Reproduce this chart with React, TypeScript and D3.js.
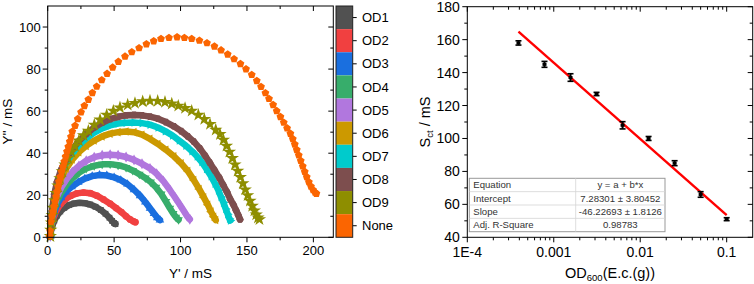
import React from 'react';
import * as d3 from 'd3';

// ---------- Left chart data (Nyquist plots) ----------
const seriesNames = ['OD1', 'OD2', 'OD3', 'OD4', 'OD5', 'OD6', 'OD7', 'OD8', 'OD9', 'None'];
const seriesColors = ['#515151', '#F14040', '#1A6FDF', '#37AD6B', '#B177DE', '#CC9900', '#00CBCC', '#7D4E4E', '#8E8E00', '#FB6501'];

const od1: [number, number][] = [[2,0.5],[2.5,3],[3.5,5.5],[5,8],[7,10.3],[9.5,12.3],[12.5,14],[16,15.3],[20,16.1],[24,16.4],[28,16.2],[32,15.6],[36,14.5],[40,13],[43.5,11.2],[46.5,9.3],[48.5,7.8],[50,6.8],[51,6.3]];
const od2: [number, number][] = [[2,0.5],[2.5,4],[3.5,7.5],[5,10.5],[7,13.3],[10,16],[13.5,18.2],[17.5,19.8],[22,20.9],[27,21.3],[32,21],[37,19.8],[42,18],[47,16],[51.5,13.9],[55.5,12],[59,10],[62,8.5],[64.5,7.6],[66,7.2]];
const od3: [number, number][] = [[2,0.5],[2.5,4.5],[3.5,8.5],[5,12],[7,15.5],[10,18.8],[13.5,21.5],[18,24],[23,26.2],[28,27.9],[33.5,29.1],[39,29.6],[44.5,29.4],[50,28.5],[55,27.2],[60,25.3],[65,22.6],[69.5,19.8],[73.5,16.8],[77,13.8],[80,11.3],[82.5,9.3],[84.5,8.2]];
const od4: [number, number][] = [[2,0.5],[2.5,5],[3.5,9.5],[5,13.5],[7,17.3],[10,21],[14,24.8],[18.5,28],[23.5,30.7],[29,32.7],[35,34],[41,34.7],[47,34.8],[53,34.3],[59,33.2],[64,31.8],[69,30],[73.5,28.2],[77.5,26.3],[81.5,23.8],[85.5,20.6],[89,17],[92,13.8],[94.5,11.3],[96.5,9.6],[98.5,8.3]];
const od5: [number, number][] = [[2,0.5],[2.5,5.5],[3.5,10.5],[5,15],[7,19.3],[10,23.5],[14,27.5],[18.5,31],[23.5,34],[29,36.4],[35,38.1],[41,39],[47,39.3],[53,39],[59,38.2],[65,36.8],[71,35],[77,32.8],[82,30.2],[87,26.8],[92,22.5],[96,18.8],[99.5,15.5],[102.5,12.5],[105,10],[107,8.6]];
const od6: [number, number][] = [[2,0.5],[2.5,6.5],[3.5,12.5],[5,18],[7,23],[10,28],[14,32.8],[18.5,37],[23.5,40.5],[29,43.5],[35,46],[41,48],[47,49.3],[53,50],[59,50.3],[65,50],[71,48.8],[77,46.8],[83,44.4],[89,41.6],[95,38.5],[100.5,35.2],[105.5,31.5],[110,27.2],[114,23],[117.5,19],[120.5,15.5],[123,12.2],[125,9.8],[126.5,8.2]];
const od7: [number, number][] = [[2,0.5],[2.5,7],[3.5,13.5],[5,19.5],[7,25],[10,30.5],[14,35.5],[18.5,40],[23.5,43.8],[29,47],[35,49.8],[41,51.8],[47,53.2],[53,54.1],[59,54.5],[65,54.6],[71,54.3],[77,53.6],[83,52.2],[88.5,50.5],[94,48.4],[99,46],[104,43.6],[108.5,41],[112.5,38.4],[116,35.8],[119.5,32.5],[123,29],[126,25.5],[128.5,22.3],[130.5,19.2],[132.3,16.5],[134,13.5],[135.5,11],[136.8,8.8],[137.5,8]];
const od8: [number, number][] = [[2,0.5],[2.5,7.5],[3.5,14],[5,20.5],[7,26.3],[10,32],[14,37.2],[18.5,41.8],[23.5,45.8],[29,49.2],[35,52.2],[41,54.5],[47,56.2],[53,57.3],[59,58],[65,58.2],[71,58],[77,57.4],[83,56.4],[89,54.8],[95,52.8],[100.5,50.5],[105.5,48],[110,45.5],[114.5,42.3],[118.5,38.8],[122,35.5],[125.5,32],[129,28.5],[132,25],[135,21.5],[137.5,18],[139.8,15.5],[141.8,12.8],[143.5,10.5],[144.8,8.5]];
const od9: [number, number][] = [[2,0.5],[2.3,3.5],[2.8,7],[3.4,10.5],[4.2,14],[5.2,17.5],[6.3,21],[7.6,24.5],[9.2,28],[11,31.3],[13,34.5],[15.3,37.6],[17.8,40.6],[20.5,43.4],[23.5,46],[27,48.5],[30.6,50.6],[35.1,53.5],[39.4,55.9],[44.4,58.2],[49.4,60.1],[54.4,61.7],[60.2,63],[65.7,63.8],[71.5,64.6],[77,64.9],[82.8,64.8],[88.3,64.3],[93.4,63.5],[98.3,62.5],[103.4,61.4],[108.4,60.1],[113.4,58.2],[117.9,56.2],[122.2,53.8],[126.5,51.1],[129.7,49],[132.3,46.3],[134.6,43.5],[136.8,40.6],[139,37.6],[141,34.6],[143,31.6],[145,28.6],[146.9,25.6],[148.7,22.7],[150.5,19.9],[152.3,17.3],[154,14.9],[155.6,12.7],[157,10.8],[158.3,9.3],[159.4,8.5]];
const none: [number, number][] = [[1.5,0.5],[1.8,3],[2.5,7.4],[3.2,10],[4,12.2],[4.8,14.6],[5.5,17],[6.3,19.4],[7,21.7],[7.8,24],[8.5,26.5],[9.5,28.8],[10.5,31.2],[11.5,33.6],[12.5,36],[13.5,38.4],[14.5,40.8],[15.5,43.1],[16.6,45.5],[17.5,47.8],[18.5,50.3],[20.6,53.1],[22.6,56.3],[25.1,59.5],[27.6,62.5],[30.6,65.5],[33.6,68.7],[36.9,71.7],[40.7,74.8],[44.7,77.8],[48.9,80.8],[53.2,83.5],[58.2,86],[63.3,88.1],[68.8,90],[74.3,91.9],[79.8,93.3],[85.3,94.4],[91.3,94.9],[97.4,95.2],[102.9,94.9],[108.4,94.4],[114.2,93.6],[119.9,92.4],[125.5,90.8],[130.5,89],[135.5,87],[140.3,84.8],[145.1,82.5],[149.3,80],[153.6,77.3],[157.4,74.4],[160.6,71.6],[163.9,68.6],[166.6,65.9],[169.7,63],[172.4,60.1],[175.2,57.3],[177.7,54.6],[180.2,51.9],[182.7,49.3],[184.5,46.8],[186,44.2],[187.5,41.6],[189,39],[190.5,36.4],[192,33.8],[193.5,31.2],[195,28.7],[196.6,26.3],[198.2,24.2],[199.8,22.5],[201.3,21.3],[202.3,20.8]];

const seriesData = [od1, od2, od3, od4, od5, od6, od7, od8, od9, none];

const leftXTicks = [0, 50, 100, 150, 200];
const leftXMinor = [25, 75, 125, 175];
const leftYTicks = [0, 20, 40, 60, 80, 100];
const leftYMinor = [10, 30, 50, 70, 90];

// ---------- Right chart data ----------
const odValues = [0.000390625, 0.00078125, 0.0015625, 0.003125, 0.00625, 0.0125, 0.025, 0.05, 0.1];
const sctValues = [158, 145, 137, 127, 108, 100, 85, 66, 51];
const sctErrors = [1.3, 1.8, 2.3, 1.0, 2.2, 1.2, 1.5, 1.7, 0.9];
const fitIntercept = 7.28301;
const fitSlope = -46.22693;
const rightXTicks = [1e-4, 1e-3, 1e-2, 1e-1];
const rightXTickLabels = ['1E-4', '0.001', '0.01', '0.1'];
const rightYTicks = [40, 60, 80, 100, 120, 140, 160, 180];
const rightYMinor = [50, 70, 90, 110, 130, 150, 170];
const tableLabels = ['Equation', 'Intercept', 'Slope', 'Adj. R-Square'];
const tableValues = ['y = a + b*x', '7.28301 ± 3.80452', '-46.22693 ± 1.8126', '0.98783'];

// ---------- custom symbols ----------
const symbolHexagon = {
  draw(ctx: any, size: number) {
    const r = Math.sqrt((2 * size) / (3 * Math.sqrt(3)));
    for (let i = 0; i < 6; i++) {
      const a = (Math.PI / 3) * i;
      const x = r * Math.cos(a), y = r * Math.sin(a);
      if (i === 0) ctx.moveTo(x, y); else ctx.lineTo(x, y);
    }
    ctx.closePath();
  },
};
const symbolPentagon = {
  draw(ctx: any, size: number) {
    const r = Math.sqrt(size / (2.5 * Math.sin((72 * Math.PI) / 180)));
    for (let i = 0; i < 5; i++) {
      const a = -Math.PI / 2 + (2 * Math.PI * i) / 5;
      const x = r * Math.cos(a), y = r * Math.sin(a);
      if (i === 0) ctx.moveTo(x, y); else ctx.lineTo(x, y);
    }
    ctx.closePath();
  },
};

const symbolTypes: any[] = [d3.symbolSquare, d3.symbolCircle, d3.symbolTriangle, d3.symbolTriangle, d3.symbolDiamond, d3.symbolTriangle, d3.symbolTriangle, symbolHexagon, d3.symbolStar, symbolPentagon];
const symbolRot = [0, 0, 0, 180, 0, -90, 90, 0, 0, 0];
const symbolSizes = [34, 36, 32, 32, 34, 32, 32, 38, 55, 40];
const drawBand = [true, true, true, true, true, true, true, true, false, false];

const FONT = 'Liberation Sans, Arial, Helvetica, sans-serif';

export default function App() {
  // Left geometry
  const LX0 = 47.7, LX1 = 333.3, LY0 = 6, LY1 = 237.3;
  const xL = d3.scaleLinear().domain([0, 215]).range([LX0, LX1]);
  const yL = d3.scaleLinear().domain([0, 110]).range([LY1, LY0]);
  const band = d3.scaleBand<string>().domain(seriesNames).range([LY0, LY1]);
  const CB0 = 336, CB1 = 352.7;

  // Right geometry
  const RX0 = 467.3, RX1 = 752.7, RY0 = 6.7, RY1 = 237.3;
  const xR = d3.scaleLog().domain([1e-4, 0.2]).range([RX0, RX1]);
  const yR = d3.scaleLinear().domain([40, 180]).range([RY1, RY0]);
  const rightXMinor: number[] = [];
  for (let e = -4; e <= -1; e++) {
    for (let m = 2; m <= 9; m++) {
      const v = m * Math.pow(10, e);
      if (v < 0.2 - 1e-9) rightXMinor.push(v);
    }
  }

  const line = d3.line<[number, number]>().x(d => xL(d[0])).y(d => yL(d[1])).curve(d3.curveLinear);
  const fitX0 = odValues[0], fitX1 = odValues[odValues.length - 1];
  const fit = (x: number) => fitIntercept + fitSlope * Math.log10(x);

  const TX0 = 469.3, TX1 = 665, TY0 = 178.3, TY1 = 231.7, TXM = 575.7;
  const rowH = (TY1 - TY0) / 4;

  return (
    <svg width={754} height={284} style={{ position: 'absolute', left: 0, top: 0, background: '#fff' }} fontFamily={FONT}>
      <rect x={0} y={0} width={754} height={284} fill="#fff" />
      {/* ===== Left chart ===== */}
      <g>
        {seriesData.map((pts, si) => (
          <g key={'s' + si}>
            {drawBand[si] && (
              <path d={line(pts) || ''} fill="none" stroke={seriesColors[si]} strokeWidth={6.5} strokeLinejoin="round" strokeLinecap="round" />
            )}
            {pts.map((p, i) => (
              <path
                key={i}
                d={d3.symbol().type(symbolTypes[si]).size(symbolSizes[si])() || ''}
                transform={`translate(${xL(p[0])},${yL(p[1])}) rotate(${symbolRot[si]})`}
                fill={seriesColors[si]}
              />
            ))}
          </g>
        ))}
        <rect x={LX0} y={LY0} width={LX1 - LX0} height={LY1 - LY0} fill="none" stroke="#000" strokeWidth={1} />
        {leftXTicks.map(t => (
          <g key={'lxt' + t}>
            <line x1={xL(t)} x2={xL(t)} y1={LY1} y2={LY1 + 5} stroke="#000" />
            <line x1={xL(t)} x2={xL(t)} y1={LY0} y2={LY0 + 5} stroke="#000" />
            <text x={xL(t)} y={255} textAnchor="middle" fontSize={13}>{t}</text>
          </g>
        ))}
        {leftXMinor.map(t => (
          <g key={'lxm' + t}>
            <line x1={xL(t)} x2={xL(t)} y1={LY1} y2={LY1 + 3} stroke="#000" />
            <line x1={xL(t)} x2={xL(t)} y1={LY0} y2={LY0 + 3} stroke="#000" />
          </g>
        ))}
        {leftYTicks.map(t => (
          <g key={'lyt' + t}>
            <line x1={LX0 - 5} x2={LX0} y1={yL(t)} y2={yL(t)} stroke="#000" />
            <line x1={LX1 - 5} x2={LX1} y1={yL(t)} y2={yL(t)} stroke="#000" />
            <text x={LX0 - 7} y={yL(t) + 4.5} textAnchor="end" fontSize={13}>{t}</text>
          </g>
        ))}
        {leftYMinor.map(t => (
          <g key={'lym' + t}>
            <line x1={LX0 - 3} x2={LX0} y1={yL(t)} y2={yL(t)} stroke="#000" />
            <line x1={LX1 - 3} x2={LX1} y1={yL(t)} y2={yL(t)} stroke="#000" />
          </g>
        ))}
        <text x={(LX0 + LX1) / 2} y={278} textAnchor="middle" fontSize={13.5}>Y' / mS</text>
        <text transform={`translate(12,${(LY0 + LY1) / 2}) rotate(-90)`} textAnchor="middle" fontSize={13.5}>Y'' / mS</text>

        {/* color legend */}
        {seriesNames.map((n, i) => (
          <g key={'cb' + n}>
            <rect x={CB0} y={band(n)} width={CB1 - CB0} height={band.bandwidth()} fill={seriesColors[i]} />
            <line x1={CB1} x2={CB1 + 4} y1={(band(n) as number) + band.bandwidth() / 2} y2={(band(n) as number) + band.bandwidth() / 2} stroke="#000" />
            <text x={362} y={(band(n) as number) + band.bandwidth() / 2 + 4.6} fontSize={13}>{n}</text>
          </g>
        ))}
        <rect x={CB0} y={LY0} width={CB1 - CB0} height={LY1 - LY0} fill="none" stroke="#222" strokeWidth={1} />
      </g>

      {/* ===== Right chart ===== */}
      <g>
        <rect x={RX0} y={RY0} width={RX1 - RX0} height={RY1 - RY0} fill="none" stroke="#000" strokeWidth={1} />
        {rightXTicks.map((t, i) => (
          <g key={'rxt' + i}>
            <line x1={xR(t)} x2={xR(t)} y1={RY1} y2={RY1 + 5} stroke="#000" />
            <line x1={xR(t)} x2={xR(t)} y1={RY0} y2={RY0 + 5} stroke="#000" />
            <text x={xR(t)} y={256.5} textAnchor="middle" fontSize={14}>{rightXTickLabels[i]}</text>
          </g>
        ))}
        {rightXMinor.map((t, i) => (
          <g key={'rxm' + i}>
            <line x1={xR(t)} x2={xR(t)} y1={RY1} y2={RY1 + 3} stroke="#000" />
            <line x1={xR(t)} x2={xR(t)} y1={RY0} y2={RY0 + 3} stroke="#000" />
          </g>
        ))}
        {rightYTicks.map(t => (
          <g key={'ryt' + t}>
            <line x1={RX0 - 5} x2={RX0} y1={yR(t)} y2={yR(t)} stroke="#000" />
            <line x1={RX1 - 5} x2={RX1} y1={yR(t)} y2={yR(t)} stroke="#000" />
            <text x={RX0 - 7.5} y={yR(t) + 5} textAnchor="end" fontSize={14}>{t}</text>
          </g>
        ))}
        {rightYMinor.map(t => (
          <g key={'rym' + t}>
            <line x1={RX0 - 3} x2={RX0} y1={yR(t)} y2={yR(t)} stroke="#000" />
            <line x1={RX1 - 3} x2={RX1} y1={yR(t)} y2={yR(t)} stroke="#000" />
          </g>
        ))}

        {/* fit line */}
        <line x1={xR(fitX0)} y1={yR(fit(fitX0))} x2={xR(fitX1)} y2={yR(fit(fitX1))} stroke="#FF0000" strokeWidth={2.4} />

        {/* error bars */}
        {odValues.map((x, i) => {
          const cx = xR(x);
          const yTop = yR(sctValues[i] + sctErrors[i]);
          const yBot = yR(sctValues[i] - sctErrors[i]);
          return (
            <g key={'eb' + i} stroke="#000">
              <line x1={cx} x2={cx} y1={yTop} y2={yBot} strokeWidth={2} />
              <line x1={cx - 3} x2={cx + 3} y1={yTop} y2={yTop} strokeWidth={1.6} />
              <line x1={cx - 3} x2={cx + 3} y1={yBot} y2={yBot} strokeWidth={1.6} />
              <rect x={cx - 2} y={yR(sctValues[i]) - 1.5} width={4} height={3} fill="#000" stroke="none" />
            </g>
          );
        })}

        {/* table */}
        <g fontSize={9.6} fill="#333">
          <rect x={TX0} y={TY0} width={TX1 - TX0} height={TY1 - TY0} fill="#fff" stroke="#999" strokeWidth={1} />
          {[1, 2, 3].map(r => (
            <line key={'tr' + r} x1={TX0} x2={TX1} y1={TY0 + r * rowH} y2={TY0 + r * rowH} stroke="#d4d4d4" strokeWidth={0.8} />
          ))}
          <line x1={TXM} x2={TXM} y1={TY0} y2={TY1} stroke="#d4d4d4" strokeWidth={0.8} />
          {tableLabels.map((l, r) => (
            <text key={'tl' + r} x={TX0 + 4} y={TY0 + r * rowH + rowH / 2 + 3.4}>{l}</text>
          ))}
          {tableValues.map((v, r) => (
            <text key={'tv' + r} x={(TXM + TX1) / 2} y={TY0 + r * rowH + rowH / 2 + 3.4} textAnchor="middle">{v}</text>
          ))}
        </g>

        <text x={(RX0 + RX1) / 2} y={278} textAnchor="middle" fontSize={14.5}>
          OD<tspan fontSize={9.5} dy={3}>600</tspan><tspan dy={-3}>(E.c.(g))</tspan>
        </text>
        <text transform={`translate(430,${(RY0 + RY1) / 2}) rotate(-90)`} textAnchor="middle" fontSize={14.5}>
          S<tspan fontSize={9.5} dy={3}>ct</tspan><tspan dy={-3}> / mS</tspan>
        </text>
      </g>
    </svg>
  );
}
